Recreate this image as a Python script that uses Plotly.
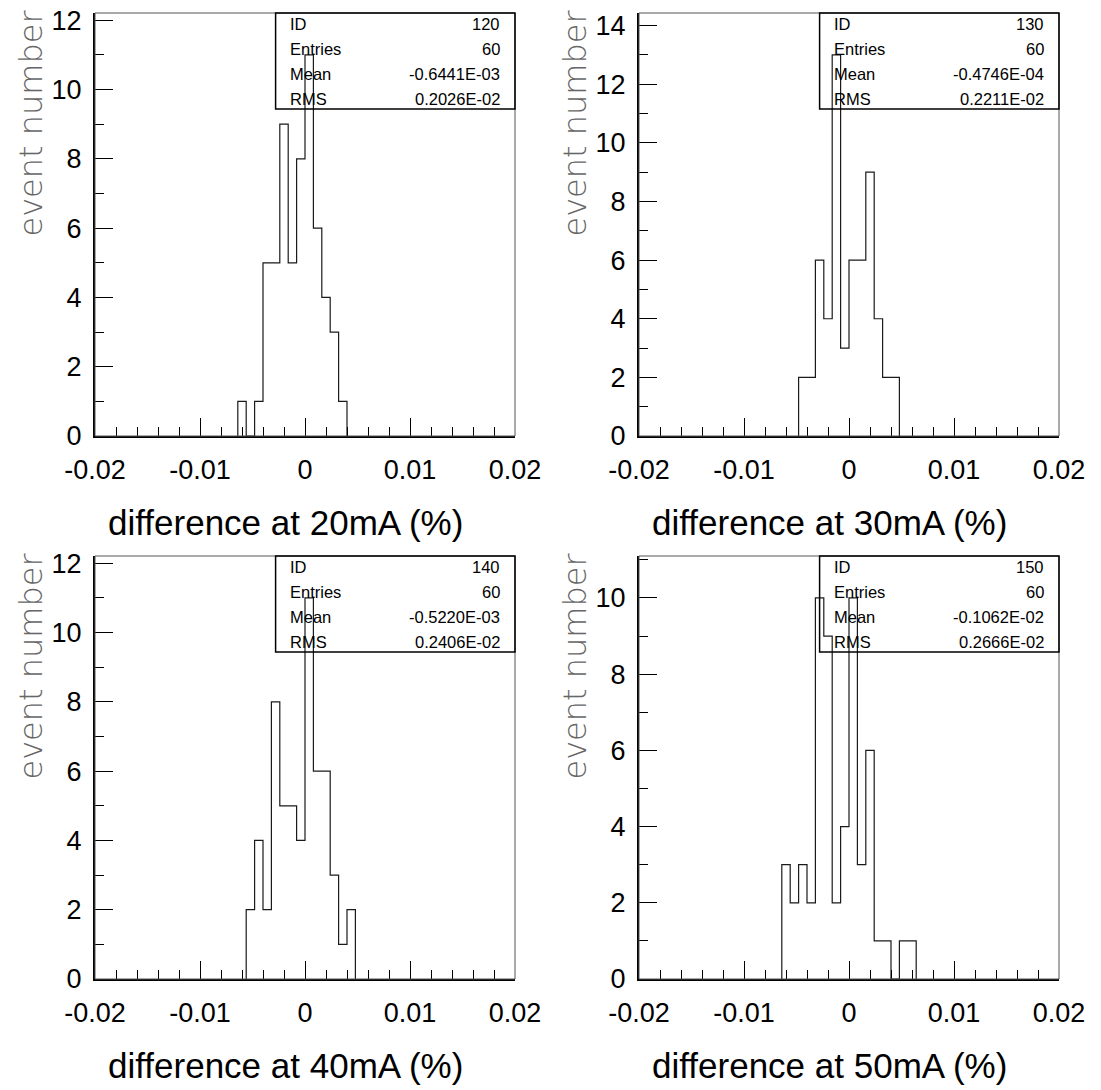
import numpy as np
import plotly.graph_objects as go

# ---------------- data ----------------
BIN_WIDTH = 0.0008
ids = ["120", "130", "140", "150"]
currents = ["20mA", "30mA", "40mA", "50mA"]
# first bin lower edge of each histogram (x, in %)
h120_start = -0.0064
h120_counts = [1, 0, 1, 5, 5, 9, 5, 8, 11, 6, 4, 3, 1]
h130_start = -0.0048
h130_counts = [2, 2, 6, 4, 13, 3, 6, 6, 9, 4, 2, 2]
h140_start = -0.0056
h140_counts = [2, 4, 2, 8, 5, 5, 4, 11, 6, 6, 3, 1, 2]
h150_start = -0.0064
h150_counts = [3, 2, 3, 2, 10, 9, 2, 4, 10, 3, 6, 1, 1, 0, 1, 1]
entries = ["60", "60", "60", "60"]
means = ["-0.6441E-03", "-0.4746E-04", "-0.5220E-03", "-0.1062E-02"]
rms = ["0.2026E-02", "0.2211E-02", "0.2406E-02", "0.2666E-02"]
x_tick_vals = [-0.02, -0.01, 0, 0.01, 0.02]
x_tick_text = ["-0.02", "-0.01", "0", "0.01", "0.02"]

starts = [h120_start, h130_start, h140_start, h150_start]
counts_all = [h120_counts, h130_counts, h140_counts, h150_counts]

# ---------------- layout geometry (pixels) ----------------
W, H = 1101, 1090
cols = [(95, 515), (639, 1059)]
rows = [(13, 436), (556, 979)]
FONT = "Liberation Sans, Arial, Helvetica, sans-serif"

fig = go.Figure()
annotations = []
shapes = []

for i in range(4):
    r, c = divmod(i, 2)
    sfx = "" if i == 0 else str(i + 1)
    xa, ya = "x" + sfx, "y" + sfx
    cnt = counts_all[i]
    edges = starts[i] + BIN_WIDTH * np.arange(len(cnt) + 1)
    xs = [edges[0]] + list(edges[:-1]) + [edges[-1]]
    ys = [0] + list(cnt) + [0]
    fig.add_trace(go.Scatter(x=xs, y=ys, mode="lines", line=dict(color="#1a1a1a", width=1.2, shape="hv"),
                             xaxis=xa, yaxis=ya, showlegend=False, hoverinfo="skip"))

    ymax = max(cnt) * 1.11
    x0p, x1p = cols[c]
    y0p, y1p = rows[r]
    xdom = [x0p / W, x1p / W]
    ydom = [(H - y1p) / H, (H - y0p) / H]
    ph = y1p - y0p
    pw = x1p - x0p

    fig.layout["xaxis" + sfx] = dict(
        domain=xdom, anchor=ya, range=[-0.02, 0.02], showgrid=False, zeroline=False,
        automargin=False,
        showline=True, linecolor="black", linewidth=2, mirror=False,
        ticks="inside", ticklen=18, tickwidth=1, tickcolor="black",
        tickmode="array", tickvals=x_tick_vals, ticktext=x_tick_text,
        tickfont=dict(family=FONT, size=27, color="black"), ticklabelstandoff=9,
        minor=dict(tickmode="linear", tick0=-0.02, dtick=0.002, ticks="inside", ticklen=9,
                   tickwidth=1, tickcolor="black", showgrid=False),
    )
    fig.layout["yaxis" + sfx] = dict(
        domain=ydom, anchor=xa, range=[0, ymax], showgrid=False, zeroline=False,
        automargin=False,
        showline=True, linecolor="black", linewidth=2, mirror=False,
        ticks="inside", ticklen=18, tickwidth=1, tickcolor="black",
        tickmode="linear", tick0=0, dtick=2,
        tickfont=dict(family=FONT, size=27, color="black"), ticklabelstandoff=6,
        minor=dict(tickmode="linear", tick0=0, dtick=1, ticks="inside", ticklen=9,
                   tickwidth=1, tickcolor="black", showgrid=False),
    )

    xd, yd = xa + " domain", ya + " domain"
    # thin frame
    shapes.append(dict(type="rect", xref=xd, yref=yd, x0=0, x1=1, y0=0, y1=1,
                       line=dict(color="#555", width=1), layer="above"))
    # stats box
    bx0 = 0.43
    by0 = 1 - 96 / ph
    shapes.append(dict(type="rect", xref=xd, yref=yd, x0=bx0, x1=1.0, y0=by0, y1=1.0,
                       line=dict(color="black", width=1.5), layer="above"))
    labels = ["ID", "Entries", "Mean", "RMS"]
    values = [ids[i], entries[i], means[i], rms[i]]
    for k in range(4):
        yk = 1 - (11.5 + 25 * k) / ph
        annotations.append(dict(xref=xd, yref=yd, x=(193 / pw), y=yk, text=labels[k],
                                showarrow=False, xanchor="left", yanchor="middle",
                                font=dict(family=FONT, size=16.5, color="black")))
        annotations.append(dict(xref=xd, yref=yd, x=(407 / pw), y=yk, text=values[k],
                                showarrow=False, xanchor="right", yanchor="middle",
                                font=dict(family=FONT, size=16.5, color="black")))
    # x title
    annotations.append(dict(xref="paper", yref="paper", x=(x0p + 190) / W, y=(H - (y1p + 86)) / H,
                            text="difference at " + currents[i] + " (%)", showarrow=False,
                            xanchor="center", yanchor="middle",
                            font=dict(family=FONT, size=35, color="black")))
    # y title
    annotations.append(dict(xref="paper", yref="paper", x=(x0p - 65) / W, y=(H - (y0p - 5)) / H,
                            text="event number", showarrow=False, textangle=-90,
                            xanchor="center", yanchor="top",
                            font=dict(family="DejaVu Sans", size=32, color="#666", weight=200)))

fig.update_layout(template="none", width=W, height=H, margin=dict(l=0, r=0, t=0, b=0, pad=0),
                  paper_bgcolor="white", plot_bgcolor="white",
                  annotations=annotations, shapes=shapes)
fig.write_html("out.html")
